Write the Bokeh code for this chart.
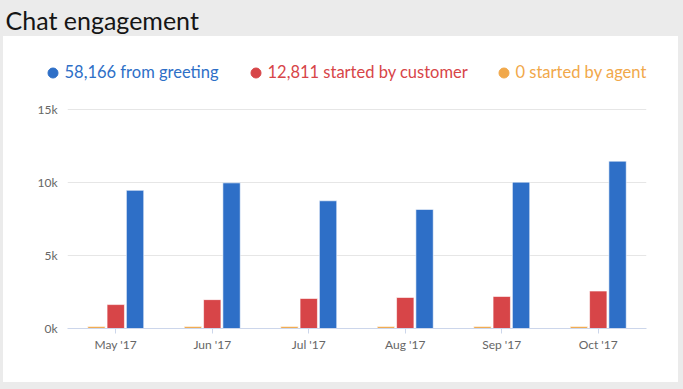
from bokeh.plotting import figure
from bokeh.models import (Range1d, FixedTicker, Legend, LegendItem, Label,
                          ColumnDataSource, FactorRange)
from bokeh.transform import dodge
from bokeh.layouts import column, row
from bokeh.embed import file_html
from bokeh.resources import INLINE

# ---------------- data ----------------
title_text = "Chat engagement"
months = ["May '17", "Jun '17", "Jul '17", "Aug '17", "Sep '17", "Oct '17"]
from_greeting = [9480, 9990, 8760, 8170, 10040, 11480]
started_by_customer = [1640, 1980, 2060, 2130, 2200, 2570]
started_by_agent = [130, 130, 130, 130, 130, 130]
series_labels = ["58,166 from greeting", "12,811 started by customer", "0 started by agent"]
y_ticks = [0, 5000, 10000, 15000]
y_tick_labels = ["0k", "5k", "10k", "15k"]

# ---------------- styles ----------------
BLUE = "#2e6fc7"
RED = "#d74548"
ORANGE = "#f1a84a"
HEADER_BG = "#ebebeb"
GRID = "#e6e6e6"
FONT = "Lato"
WHITE_HOST = {"background-color": "white"}

src = ColumnDataSource(dict(month=months, greeting=from_greeting,
                            customer=started_by_customer, agent=started_by_agent))

# ---------------- header ----------------
header = figure(width=683, height=36, x_axis_type=None, y_axis_type=None,
                toolbar_location=None, output_backend="svg", min_border=0,
                background_fill_color=HEADER_BG, border_fill_color=HEADER_BG,
                outline_line_color=None, styles={"background-color": HEADER_BG})
header.add_layout(Label(x=5, y=17, x_units="screen", y_units="screen",
                        text=title_text, text_font=FONT, text_font_size="25px",
                        text_color="#151515", text_baseline="alphabetic"))

# ---------------- legend strip (top of the card) ----------------
leg = figure(x_range=FactorRange(*months), y_range=Range1d(0, 1),
             width=675, height=60, x_axis_type=None, y_axis_type=None,
             toolbar_location=None, output_backend="svg", min_border=0,
             background_fill_color="white", border_fill_color="white",
             outline_line_color=None, margin=(0, 5, 0, 3), styles=WHITE_HOST)
s_blue = leg.scatter(x="month", y="greeting", source=src, size=10, color=BLUE, visible=False)
s_red = leg.scatter(x="month", y="customer", source=src, size=10, color=RED, visible=False)
s_orange = leg.scatter(x="month", y="agent", source=src, size=10, color=ORANGE, visible=False)

for r, lab, col, xloc in zip([s_blue, s_red, s_orange], series_labels,
                             [BLUE, RED, ORANGE], [36.5, 239.5, 487.5]):
    lg = Legend(items=[LegendItem(label=lab, renderers=[r])], location=(xloc, 11.5),
                orientation="horizontal", padding=0, margin=0, spacing=0,
                glyph_width=25, glyph_height=25, label_height=25, label_standoff=0,
                label_text_color=col, label_text_font=FONT, label_text_font_size="16.5px",
                border_line_color=None, background_fill_alpha=0,
                inactive_fill_alpha=0)
    leg.add_layout(lg)

# ---------------- main chart ----------------
p = figure(x_range=FactorRange(*months), y_range=Range1d(0, 15640),
           width=675, height=286, output_backend="svg", toolbar_location=None,
           min_border_left=64, min_border_right=32, min_border_top=4,
           min_border_bottom=54, outline_line_color=None,
           background_fill_color="white", border_fill_color="white",
           margin=(0, 5, 7, 3), styles=WHITE_HOST)

bar_w = 0.18
p.vbar(x=dodge("month", -0.2, range=p.x_range), top="agent", width=bar_w, source=src,
       fill_color=ORANGE, line_color="white", line_alpha=0.6)
p.vbar(x=dodge("month", 0.0, range=p.x_range), top="customer", width=bar_w, source=src,
       fill_color=RED, line_color="white", line_alpha=0.6)
p.vbar(x=dodge("month", 0.2, range=p.x_range), top="greeting", width=bar_w, source=src,
       fill_color=BLUE, line_color="white", line_alpha=0.6)

# axes
p.xaxis.axis_line_color = "#ccd6eb"
p.xaxis.major_tick_line_color = "#ccd6eb"
p.xaxis.major_tick_out = 5
p.xaxis.major_tick_in = 0
p.xaxis.minor_tick_line_color = None
p.xaxis.major_label_standoff = 3
p.xaxis.major_label_text_font = FONT
p.xaxis.major_label_text_font_size = "12px"
p.xaxis.major_label_text_color = "#666666"

p.yaxis.ticker = FixedTicker(ticks=y_ticks)
p.yaxis.major_label_overrides = dict(zip(y_ticks, y_tick_labels))
p.yaxis.axis_line_color = None
p.yaxis.major_tick_line_color = None
p.yaxis.minor_tick_line_color = None
p.yaxis.major_tick_out = 0
p.yaxis.major_tick_in = 0
p.yaxis.major_label_standoff = 10
p.yaxis.major_label_text_font = FONT
p.yaxis.major_label_text_font_size = "12px"
p.yaxis.major_label_text_color = "#666666"

p.xgrid.grid_line_color = None
p.ygrid.grid_line_color = GRID
p.ygrid.ticker = FixedTicker(ticks=y_ticks)

layout = column(row(header), row(leg), row(p), spacing=0,
                styles={"background-color": HEADER_BG})
open("out.html", "w").write(file_html(layout, INLINE))
